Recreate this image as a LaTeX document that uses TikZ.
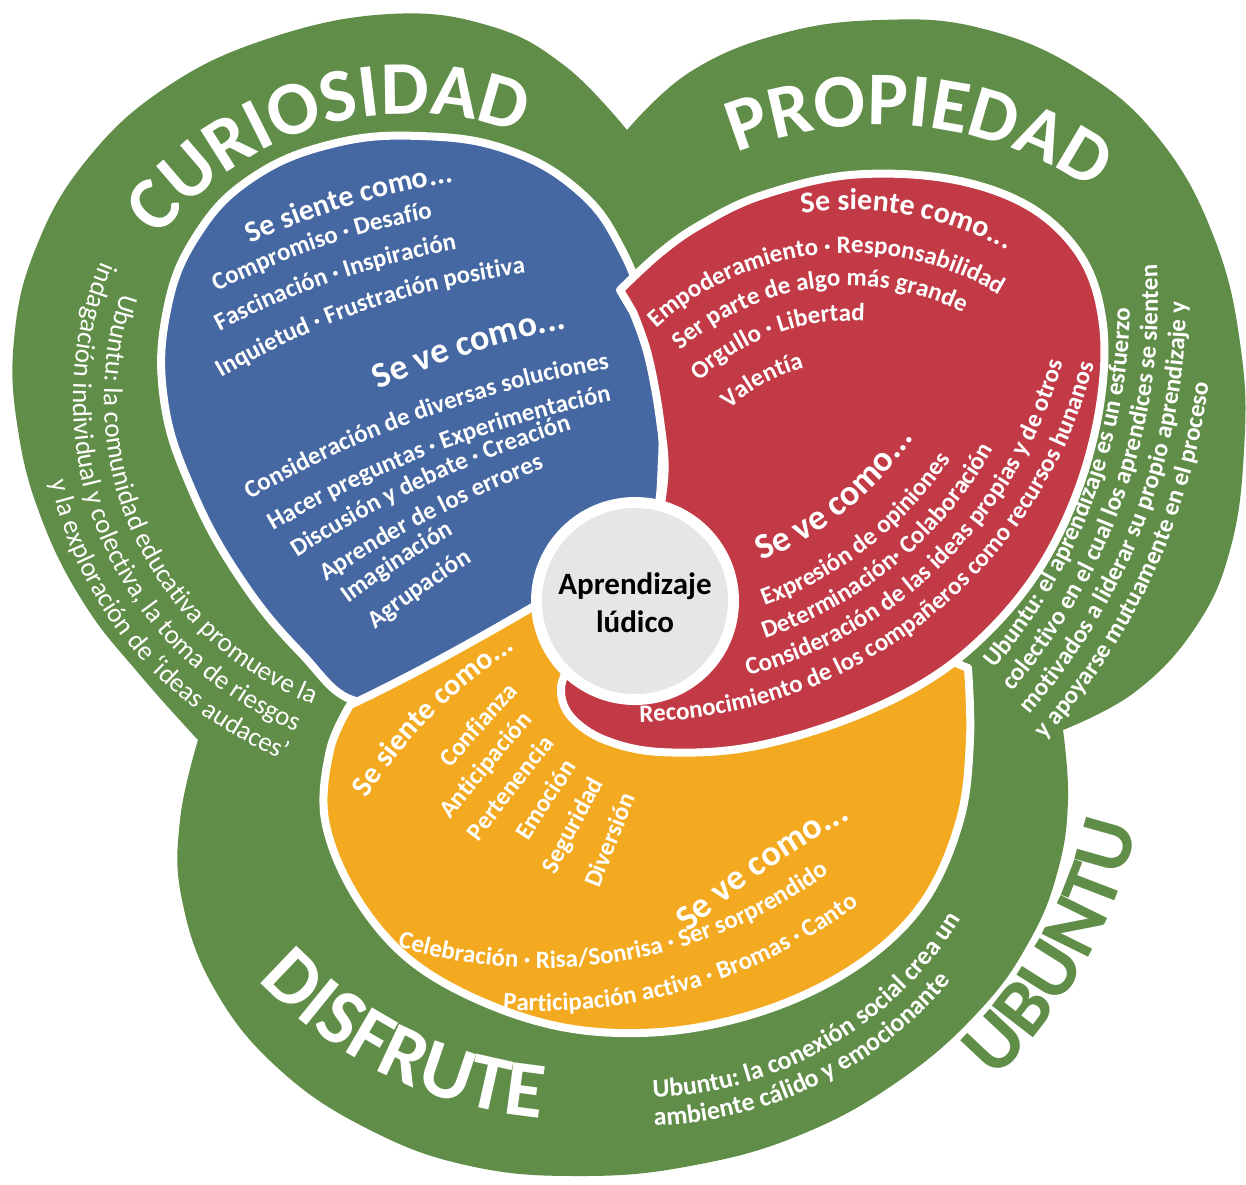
\documentclass[tikz,border=0pt]{standalone}
\usepackage{fontspec}
\setmainfont{Carlito}
\usetikzlibrary{decorations.text}
\definecolor{cgreen}{HTML}{608D47}
\definecolor{cblue}{HTML}{4668A2}
\definecolor{cred}{HTML}{C23A46}
\definecolor{cyellow}{HTML}{F3AA20}
\definecolor{cgray}{HTML}{E6E6E8}
\newcommand\fBody{\bfseries\fontsize{12.5}{15}\selectfont}
\newcommand\fHs{\bfseries\fontsize{15}{18}\selectfont}
\newcommand\fHv{\bfseries\fontsize{18}{21}\selectfont}
\newcommand\fBig{\bfseries\fontsize{40}{44}\selectfont}
\newcommand\fBigS{\bfseries\fontsize{38}{42}\selectfont}
\newcommand\fBandL{\fontsize{13.5}{16}\selectfont}
\newcommand\fBandR{\bfseries\fontsize{12.5}{15}\selectfont}
\newcommand\fBandD{\bfseries\fontsize{13}{15}\selectfont}
% text on an arc: [colour] font, cx, cy (image px), r, start angle, end angle, align, text
\newcommand\arcT[9][white]{%
 \path[decorate,decoration={text along path,text color=#1,text align={align=#8},text={|#2|#9}}]
 ([shift={(#3,-#4)}]#6:#5) arc[start angle=#6,end angle=#7,radius=#5];}
% text centred at a point: [colour] font, x, y, rotation, signed radius, text
\newcommand\ctext[7][white]{%
 \begin{scope}[shift={(#3,-#4)},rotate=#5]
 \pgfmathsetmacro\myRR{abs(#6)}%
 \pgfmathsetmacro\mySS{min(80,420/\myRR*57.2958)}%
 \ifdim #6pt>0pt
  \pgfmathsetmacro\myAA{90+\mySS}\pgfmathsetmacro\myBB{90-\mySS}%
  \path[decorate,decoration={text along path,text color=#1,text align={align=center},text={|#2|#7}}]
   ([shift={(0,-\myRR)}]\myAA:\myRR) arc[start angle=\myAA,end angle=\myBB,radius=\myRR];
 \else
  \pgfmathsetmacro\myAA{270-\mySS}\pgfmathsetmacro\myBB{270+\mySS}%
  \path[decorate,decoration={text along path,text color=#1,text align={align=center},text={|#2|#7}}]
   ([shift={(0,\myRR)}]\myAA:\myRR) arc[start angle=\myAA,end angle=\myBB,radius=\myRR];
 \fi
 \end{scope}}
\tikzset{petal/.style={draw=white,line width=4pt,line join=round}}
\begin{document}
\begin{tikzpicture}[x=0.5pt,y=0.5pt]
\useasboundingbox (0,0) rectangle (1246,-1184);
\fill[white] (0,0) rectangle (1246,-1184);
% green outer shape
\fill[cgreen] plot[smooth,tension=0.7] coordinates {(198,-740) (140,-675) (85,-605) (42,-520) (18,-430) (14,-340) (35,-250) (85,-162) (165,-88) (270,-38) (390,-14) (490,-26) (565,-66) (627,-130)}
 -- plot[smooth,tension=0.7] coordinates {(627,-130) (690,-72) (780,-34) (880,-20) (980,-28) (1080,-70) (1160,-140) (1215,-240) (1241,-350) (1244,-450) (1230,-550) (1195,-628) (1135,-692) (1063,-730)}
 -- plot[smooth,tension=0.7] coordinates {(1063,-730) (1068,-800) (1058,-870) (1030,-940) (980,-1010) (900,-1080) (800,-1135) (690,-1166) (580,-1176) (470,-1166) (370,-1130) (280,-1070) (215,-990) (182,-900) (180,-820) (198,-740)} -- cycle;
% blue
\filldraw[petal,fill=cblue] plot[smooth cycle,tension=0.7] coordinates {(360,-702) (300,-652) (240,-578) (192,-490) (164,-400) (167,-310) (197,-235) (252,-178) (332,-144) (420,-136) (508,-150) (580,-192) (622,-250) (645,-315) (658,-390) (662,-460) (650,-530) (600,-590) (520,-640) (440,-680)};
% yellow
\filldraw[petal,fill=cyellow] plot[smooth,tension=0.6] coordinates {(968,-668) (970,-740) (960,-820) (925,-900) (865,-960) (780,-1005) (680,-1030) (580,-1030) (490,-1005) (410,-960) (355,-895) (325,-820) (330,-750) (350,-705)} .. controls (420,-672) and (490,-632) .. (548,-598) -- (620,-640) -- (700,-715) -- (800,-690) -- (900,-640) -- cycle;
% red
\filldraw[petal,fill=cred] plot[smooth,tension=0.6] coordinates {(620,-290) (660,-253) (700,-225) (760,-196) (850,-175) (950,-179) (1030,-207) (1082,-258) (1103,-325) (1100,-405) (1078,-490) (1040,-568) (988,-632) (925,-682) (840,-722) (745,-748) (660,-752) (605,-740) (572,-718) (561,-692) (570,-665) (605,-615) (648,-550) (664,-480) (660,-420) (648,-355) (633,-312)} -- cycle;
% centre
\fill[white] (635,-601) circle[radius=104];
\fill[cgray] (635,-601) circle[radius=93];
\node[font=\bfseries\fontsize{15.5}{19}\selectfont,align=center,text=black] (ctr) at (635,-603) {Aprendizaje\\lúdico};
% big words
\arcT{\fBigS}{410}{430}{316}{176}{36}{center}{CURIOSIDAD}
\arcT{\fBigS}{880}{505}{380}{144}{24}{center}{PROPIEDAD}
\arcT{\fBig}{580}{680}{440}{194}{294}{center}{DISFRUTE}
\arcT[cgreen]{\fBig}{645}{715}{505}{-80}{21}{center}{UBUNTU}
% green band texts
\arcT{\fBandL}{430}{400}{326}{99}{249}{right}{Ubuntu: la comunidad educativa promueve la}
\arcT{\fBandL}{430}{400}{357}{99}{248}{right}{indagación individual y colectiva, la toma de riesgos}
\arcT{\fBandL}{430}{400}{388}{99}{248}{right}{y la exploración de ‘ideas audaces’}
\arcT{\fBandR}{560}{300}{570}{-40.3}{40}{left}{Ubuntu: el aprendizaje es un esfuerzo}
\arcT{\fBandR}{560}{300}{598}{-40.9}{40}{left}{colectivo en el cual los aprendices se sienten}
\arcT{\fBandR}{560}{300}{626}{-41.4}{40}{left}{motivados a liderar su propio aprendizaje y}
\arcT{\fBandR}{560}{300}{654}{-42.2}{40}{left}{y apoyarse mutuamente en el proceso}
\arcT{\fBandD}{640}{720}{378}{-88}{0}{left}{Ubuntu: la conexión social crea un}
\arcT{\fBandD}{640}{720}{406}{-88}{0}{left}{ambiente cálido y emocionante}
% blue texts
\ctext{\fHs}{350}{206}{17}{800}{Se siente como...}
\ctext{\fBody}{322}{247}{19}{800}{Compromiso · Desafío}
\ctext{\fBody}{335}{281}{19}{800}{Fascinación · Inspiración}
\ctext{\fBody}{368}{310}{19}{800}{Inquietud · Frustración positiva}
\ctext{\fHv}{471}{353}{18}{800}{Se ve como...}
\ctext{\fBody}{424}{418}{20}{1100}{Consideración de diversas soluciones}
\ctext{\fBody}{437}{452}{21}{1100}{Hacer preguntas · Experimentación}
\ctext{\fBody}{430}{484}{25}{1100}{Discusión y debate · Creación}
\ctext{\fBody}{432}{519}{27.5}{1100}{Aprender de los errores}
\ctext{\fBody}{400}{567}{33}{1100}{Imaginación}
\ctext{\fBody}{423}{594}{35}{1100}{Agrupación}
% red texts
\arcT{\fHs}{850}{540}{330}{150}{10}{center}{Se siente como...}
\arcT{\fBody}{850}{540}{287}{132.4}{-20}{left}{Empoderamiento · Responsabilidad}
\arcT{\fBody}{850}{540}{254}{131.8}{-20}{left}{Ser parte de algo más grande}
\arcT{\fBody}{850}{540}{219}{133.5}{-20}{left}{Orgullo · Libertad}
\arcT{\fBody}{850}{540}{178}{132.7}{-20}{left}{Valentía}
\arcT{\fHv}{633}{246}{340}{-67.8}{30}{left}{Se ve como...}
\arcT{\fBody}{633}{246}{383}{-69.9}{30}{left}{Expresión de opiniones}
\arcT{\fBody}{633}{246}{414}{-71.4}{30}{left}{Determinación·  Colaboración}
\arcT{\fBody}{633}{246}{445}{-75}{30}{left}{Consideración de las ideas propias y de otros}
\arcT{\fBody}{633}{246}{476}{-89.2}{30}{left}{Reconocimiento de los compañeros como recursos hunanos}
% yellow texts
\ctext{\fHs}{433}{716}{45}{500}{Se siente como...}
\ctext{\fBody}{484}{730}{48}{5000}{Confianza}
\ctext{\fBody}{491}{770}{50}{5000}{Anticipación}
\ctext{\fBody}{516}{793}{52}{5000}{Pertenencia}
\ctext{\fBody}{552}{804}{57}{5000}{Emoción}
\ctext{\fBody}{579}{829}{62}{5000}{Seguridad}
\ctext{\fBody}{617}{843}{68}{5000}{Diversión}
\ctext{\fHv}{766}{871}{35}{900}{Se ve como...}
\arcT{\fBody}{540}{480}{488}{-107}{-20}{left}{Celebración ·  Risa/Sonrisa · Ser sorprendido}
\arcT{\fBody}{540}{480}{531}{-94}{-20}{left}{Participación activa · Bromas · Canto}
\end{tikzpicture}
\end{document}
